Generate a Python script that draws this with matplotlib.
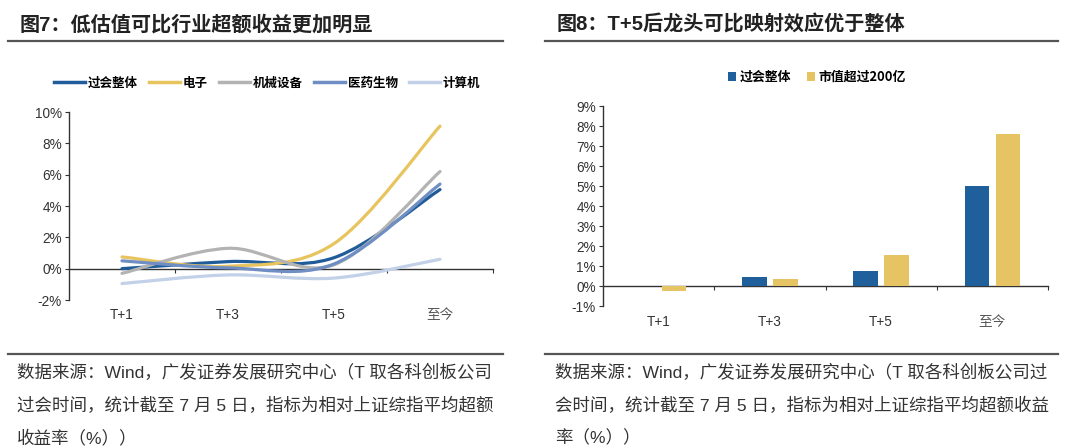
import matplotlib
matplotlib.use('Agg')
import matplotlib.pyplot as plt
from matplotlib.path import Path
from matplotlib.patches import PathPatch, Patch
from matplotlib.lines import Line2D
from matplotlib.transforms import blended_transform_factory
import numpy as np

plt.rcParams['font.family'] = ['Liberation Sans', 'Noto Sans CJK SC']

# ---------------- data ----------------
categories = ['T+1', 'T+3', 'T+5', '至今']

line_names = ['过会整体', '电子', '机械设备', '医药生物', '计算机']
overall = [0.0, 0.45, 0.7, 5.05]
electronics = [0.75, 0.15, 1.6, 9.1]
machinery = [-0.3, 1.3, 0.25, 6.2]
pharma = [0.5, 0.05, 0.3, 5.4]
computer = [-0.95, -0.4, -0.6, 0.6]
line_colors = ['#1F5C99', '#E8C45E', '#B3B3B3', '#6F8FC4', '#C2D0E8']

bar_names = ['过会整体', '市值超过200亿']
bar_overall = [0.0, 0.45, 0.77, 5.02]
bar_large = [-0.25, 0.35, 1.55, 7.6]
bar_colors = ['#1F5F9B', '#E6C363']

title_left = '图7：低估值可比行业超额收益更加明显'
title_right = '图8：T+5后龙头可比映射效应优于整体'
note_left = ['数据来源：Wind，广发证券发展研究中心（T 取各科创板公司',
             '过会时间，统计截至 7 月 5 日，指标为相对上证综指平均超额',
             '收益率（%））']
note_right = ['数据来源：Wind，广发证券发展研究中心（T 取各科创板公司过',
              '会时间，统计截至 7 月 5 日，指标为相对上证综指平均超额收益',
              '率（%））']

W, H = 1080, 448


def smooth_path(xs, ys):
    pts = np.column_stack([xs, ys]).astype(float)
    n = len(pts)
    verts = [pts[0]]
    codes = [Path.MOVETO]
    for i in range(n - 1):
        p0 = pts[i - 1] if i > 0 else pts[i]
        p1 = pts[i]
        p2 = pts[i + 1]
        p3 = pts[i + 2] if i + 2 < n else pts[i + 1]
        c1 = p1 + (p2 - p0) / 6.0
        c2 = p2 - (p3 - p1) / 6.0
        verts += [c1, c2, p2]
        codes += [Path.CURVE4] * 3
    return Path(verts, codes)


fig = plt.figure(figsize=(W / 100, H / 100), dpi=100)
fig.patch.set_facecolor('white')

# titles, rules, notes
fig.text(20 / W, 1 - 25 / H, title_left, fontsize=14.5, fontweight='bold',
         va='center', ha='left', color='#222222')
fig.text(557 / W, 1 - 25 / H, title_right, fontsize=14.5, fontweight='bold',
         va='center', ha='left', color='#222222')
for x0, x1 in [(8, 503), (545, 1058)]:
    fig.add_artist(Line2D([x0 / W, x1 / W], [1 - 41 / H] * 2, color='#555555', lw=1.6))
    fig.add_artist(Line2D([x0 / W, x1 / W], [1 - 354 / H] * 2, color='#555555', lw=1.6))
for k, (a, b) in enumerate(zip(note_left, note_right)):
    yy = 1 - (372 + 33 * k) / H
    fig.text(17 / W, yy, a, fontsize=12.6, va='center', ha='left', color='#333333')
    fig.text(555 / W, yy, b, fontsize=12.6, va='center', ha='left', color='#333333')


def style_axes(ax, ymin, ymax, step):
    for s in ['top', 'right']:
        ax.spines[s].set_visible(False)
    ax.spines['bottom'].set_position(('data', 0))
    ax.spines['left'].set_color('#333333')
    ax.spines['bottom'].set_color('#333333')
    ax.spines['left'].set_linewidth(1.0)
    ax.spines['bottom'].set_linewidth(1.0)
    ax.set_xlim(-0.5, len(categories) - 0.5)
    ax.set_ylim(ymin, ymax)
    yt = np.arange(ymin, ymax + 0.001, step)
    ax.set_yticks(yt)
    ax.set_yticklabels([f'{int(v)}%' for v in yt], fontsize=9.8, color='#333333')
    ax.tick_params(axis='y', direction='out', length=3, color='#333333', pad=2)
    ax.set_xticks(np.arange(len(categories)) + 0.5)
    ax.set_xticklabels([])
    ax.tick_params(axis='x', direction='out', length=3, color='#333333')
    tr = blended_transform_factory(ax.transData, ax.transAxes)
    for i, c in enumerate(categories):
        col = '#555555' if c == '至今' else '#333333'
        ax.text(i, -0.08, c, transform=tr, ha='center', va='center', fontsize=9.8, color=col)


# ---------------- left: smoothed lines ----------------
ax1 = fig.add_axes([69 / W, 1 - 300 / H, 424 / W, 188 / H])
style_axes(ax1, -2, 10, 2)
xs = np.arange(len(categories))
series = [overall, electronics, machinery, pharma, computer]
handles = []
for vals, col, name in zip(series, line_colors, line_names):
    patch = PathPatch(smooth_path(xs, vals), facecolor='none', edgecolor=col,
                      lw=2.3, transform=ax1.transData, zorder=3, capstyle='round')
    ax1.add_patch(patch)
    handles.append(Line2D([], [], color=col, lw=2.5))
ax1.legend(handles, line_names, loc='center', bbox_to_anchor=(267 / W, 1 - 83 / H),
           bbox_transform=fig.transFigure, ncol=5, frameon=False,
           prop=dict(family=['Noto Sans CJK SC'], weight='bold', size=9),
           handlelength=2.5, columnspacing=0.9, handletextpad=0.2, borderpad=0)

# ---------------- right: bars ----------------
ax2 = fig.add_axes([603 / W, 1 - 306 / H, 445 / W, 200 / H])
style_axes(ax2, -1, 9, 1)
ax2.bar(xs - 0.14, bar_overall, 0.22, color=bar_colors[0], zorder=3)
ax2.bar(xs + 0.14, bar_large, 0.22, color=bar_colors[1], zorder=3)
bh = [Patch(facecolor=c) for c in bar_colors]
ax2.legend(bh, bar_names, loc='center', bbox_to_anchor=(817 / W, 1 - 77 / H),
           bbox_transform=fig.transFigure, ncol=2, frameon=False,
           prop=dict(family=['Noto Sans CJK SC'], weight='bold', size=9.3),
           handlelength=0.6, handleheight=0.6, columnspacing=1.2,
           handletextpad=0.3, borderpad=0)

fig.savefig('out.png', dpi=100)
